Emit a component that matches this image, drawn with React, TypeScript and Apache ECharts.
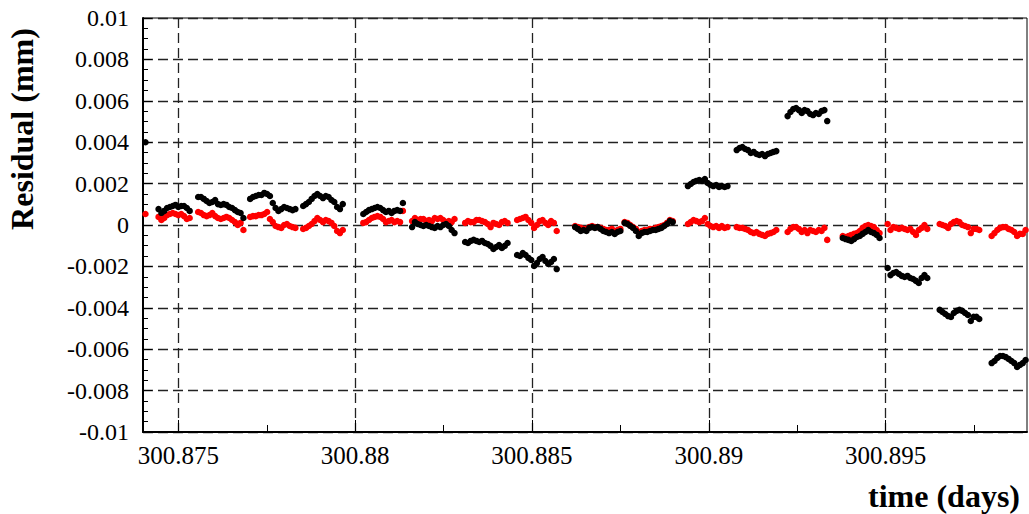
import React, { useEffect, useRef } from "react";
import * as echarts from "echarts";

// Sample times, in units of 1e-5 day after day 300.87
const timeOffsets: number[] = [
  407,
  444, 452, 460, 468, 476, 484, 492, 500, 508, 516, 524, 532,
  556, 564, 572, 580, 588, 596, 604, 612, 620, 628, 636, 644, 652, 660, 668, 676, 684,
  703, 711, 719, 727, 735, 743, 751, 759, 767, 775, 783, 791, 799, 807, 815, 823, 831,
  853, 861, 869, 877, 885, 893, 901, 909, 917, 925, 933, 941, 949, 957, 965,
  1023, 1031, 1039, 1047, 1055, 1063, 1071, 1079, 1087, 1095, 1103, 1111, 1119, 1127, 1135,
  1161, 1169, 1177, 1185, 1193, 1201, 1209, 1217, 1225, 1233, 1241, 1249, 1257, 1265, 1273, 1281,
  1311, 1319, 1327, 1335, 1343, 1351, 1359, 1367, 1375, 1383, 1391, 1399, 1407, 1415, 1423, 1431,
  1458, 1466, 1474, 1482, 1490, 1498, 1506, 1514, 1522, 1530, 1538, 1546, 1554, 1562, 1570,
  1622, 1630, 1638, 1646, 1654, 1662, 1670, 1678, 1686, 1694, 1702, 1710, 1718, 1726, 1734, 1742, 1750,
  1762, 1770, 1778, 1786, 1794, 1802, 1810, 1818, 1826, 1834, 1842, 1850, 1858, 1866, 1874, 1882, 1890, 1898,
  1941, 1949, 1957, 1965, 1973, 1981, 1989, 1997, 2005, 2013, 2021, 2029, 2037, 2045, 2053,
  2079, 2087, 2095, 2103, 2111, 2119, 2127, 2135, 2143, 2151, 2159, 2167, 2175, 2183, 2191,
  2223, 2231, 2239, 2247, 2255, 2263, 2271, 2279, 2287, 2295, 2303, 2311, 2319, 2327, 2335,
  2379, 2387, 2395, 2403, 2411, 2419, 2427, 2435, 2443, 2451, 2459, 2467, 2475, 2483,
  2506, 2514, 2522, 2530, 2538, 2546, 2554, 2562, 2570, 2578, 2586, 2594, 2602, 2610, 2618,
  2653, 2661, 2669, 2677, 2685, 2693, 2701, 2709, 2717, 2725, 2733, 2741, 2749, 2757, 2765,
  2800, 2808, 2816, 2824, 2832, 2840, 2848, 2856, 2864, 2872, 2880, 2888, 2896,
];

// Raw residuals (black), micrometres
const rawResidualUm: number[] = [
  4.0,
  0.77, 0.58, 0.68, 0.82, 0.87, 0.92, 0.97, 0.87, 0.92, 0.92, 0.82, 0.68,
  1.35, 1.35, 1.26, 1.16, 1.06, 1.11, 1.21, 1.01, 0.97, 1.01, 0.97, 0.87, 0.82, 0.72, 0.63, 0.58, 0.34,
  1.26, 1.35, 1.4, 1.45, 1.45, 1.55, 1.5, 1.4, 1.06, 0.82, 0.68, 0.77, 0.87, 0.82, 0.77, 0.72, 0.77,
  0.92, 1.01, 1.11, 1.26, 1.4, 1.5, 1.4, 1.3, 1.4, 1.35, 1.21, 1.11, 0.87, 0.77, 1.01,
  0.53, 0.63, 0.72, 0.77, 0.82, 0.87, 0.82, 0.72, 0.63, 0.68, 0.58, 0.68, 0.72, 0.68, 1.06,
  -0.1, 0.14, 0.05, 0.0, -0.05, 0.0, -0.05, -0.1, -0.14, -0.05, -0.1, 0.0, 0.05, -0.05, -0.24, -0.39,
  -0.82, -0.87, -0.77, -0.72, -0.77, -0.82, -0.77, -0.87, -0.92, -1.01, -1.16, -1.06, -0.97, -1.11, -1.01, -0.87,
  -1.45, -1.5, -1.35, -1.45, -1.59, -1.69, -1.98, -1.84, -1.64, -1.55, -1.74, -1.88, -1.79, -1.64, -2.13,
  -0.1, -0.19, -0.29, -0.24, -0.29, -0.14, -0.1, -0.14, -0.1, -0.19, -0.29, -0.34, -0.39, -0.34, -0.43, -0.34, -0.29,
  0.1, 0.05, -0.05, -0.14, -0.29, -0.53, -0.39, -0.34, -0.34, -0.29, -0.24, -0.24, -0.19, -0.14, -0.05, 0.05, 0.19, 0.14,
  1.88, 1.98, 2.08, 2.13, 2.17, 2.13, 2.22, 2.03, 1.93, 1.88, 1.93, 1.84, 1.88, 1.84, 1.88,
  3.62, 3.72, 3.77, 3.67, 3.62, 3.48, 3.53, 3.43, 3.38, 3.43, 3.33, 3.43, 3.48, 3.53, 3.57,
  5.26, 5.46, 5.6, 5.65, 5.55, 5.41, 5.55, 5.5, 5.36, 5.31, 5.41, 5.36, 5.5, 5.55, 5.02,
  -0.63, -0.68, -0.72, -0.77, -0.68, -0.58, -0.53, -0.43, -0.34, -0.24, -0.34, -0.39, -0.48, -0.63,
  -2.08, -2.42, -2.32, -2.27, -2.37, -2.46, -2.51, -2.46, -2.56, -2.61, -2.7, -2.8, -2.56, -2.42, -2.56,
  -4.1, -4.2, -4.3, -4.4, -4.44, -4.25, -4.15, -4.1, -4.15, -4.25, -4.35, -4.64, -4.44, -4.44, -4.54,
  -6.67, -6.57, -6.42, -6.33, -6.33, -6.38, -6.47, -6.57, -6.67, -6.86, -6.76, -6.67, -6.52,
];

// Corrected residuals (red), micrometres
const correctedResidualUm: number[] = [
  0.53,
  0.39, 0.24, 0.34, 0.48, 0.53, 0.58, 0.53, 0.48, 0.53, 0.43, 0.29, 0.34,
  0.63, 0.58, 0.48, 0.43, 0.48, 0.58, 0.43, 0.34, 0.29, 0.34, 0.39, 0.34, 0.24, 0.14, 0.0, 0.1, -0.24,
  0.39, 0.43, 0.43, 0.48, 0.48, 0.53, 0.63, 0.29, 0.14, -0.05, -0.1, -0.14, 0.0, 0.05, -0.05, -0.1, -0.14,
  -0.19, -0.14, -0.05, 0.05, 0.19, 0.34, 0.24, 0.14, 0.24, 0.19, 0.1, -0.05, -0.29, -0.39, -0.24,
  0.1, 0.14, 0.24, 0.34, 0.39, 0.43, 0.39, 0.29, 0.14, 0.19, 0.24, 0.14, 0.19, 0.14, 0.68,
  0.19, 0.34, 0.24, 0.29, 0.29, 0.19, 0.24, 0.19, 0.34, 0.29, 0.34, 0.24, 0.14, 0.19, 0.14, 0.29,
  0.1, 0.19, 0.14, 0.14, 0.24, 0.24, 0.19, 0.14, 0.05, -0.1, 0.1, 0.05, 0.0, 0.14, 0.19, 0.1,
  0.24, 0.29, 0.34, 0.39, 0.24, 0.1, -0.14, 0.0, 0.19, 0.24, 0.1, 0.0, 0.19, 0.1, -0.29,
  -0.05, -0.1, -0.14, -0.19, -0.19, -0.1, -0.05, -0.1, -0.1, -0.14, -0.19, -0.24, -0.24, -0.19, -0.29, -0.24, -0.19,
  0.14, 0.1, 0.0, -0.1, -0.19, -0.34, -0.29, -0.24, -0.24, -0.19, -0.19, -0.14, -0.1, -0.05, 0.0, 0.1, 0.24, 0.19,
  0.05, 0.14, 0.24, 0.19, 0.14, 0.19, 0.34, 0.05, -0.05, -0.1, -0.05, -0.14, -0.05, -0.14, -0.1,
  -0.1, -0.14, -0.14, -0.19, -0.24, -0.34, -0.39, -0.34, -0.43, -0.48, -0.53, -0.43, -0.39, -0.34, -0.24,
  -0.34, -0.19, -0.1, -0.1, -0.19, -0.34, -0.24, -0.39, -0.24, -0.29, -0.34, -0.24, -0.29, -0.14, -0.72,
  -0.53, -0.58, -0.53, -0.48, -0.43, -0.39, -0.29, -0.14, -0.05, 0.0, -0.05, -0.1, -0.24, -0.39,
  0.05, -0.24, -0.1, -0.14, -0.19, -0.14, -0.19, -0.24, -0.19, -0.34, -0.48, -0.24, -0.14, 0.0, -0.19,
  0.05, 0.0, -0.05, -0.14, 0.05, 0.14, 0.19, 0.14, 0.0, -0.05, -0.1, -0.39, -0.19, -0.19, -0.24,
  -0.53, -0.39, -0.24, -0.14, -0.1, -0.1, -0.19, -0.24, -0.34, -0.53, -0.43, -0.43, -0.24,
];

const xMajorTicks = [300.875, 300.88, 300.885, 300.89, 300.895];
const xMinorTicks = [300.8775, 300.8825, 300.8875, 300.8925, 300.8975];

const X_MIN = 300.874;
const X_MAX = 300.899;
const Y_MIN = -0.01;
const Y_MAX = 0.01;
const Y_STEP = 0.002;

const FONT = "Liberation Serif, Times New Roman, serif";

function toPoints(values: number[]): [number, number][] {
  const n = Math.min(values.length, timeOffsets.length);
  const out: [number, number][] = [];
  for (let i = 0; i < n; i++) {
    out.push([300.87 + timeOffsets[i] * 1e-5, values[i] / 1000]);
  }
  return out;
}

const fmt = (v: number) => String(+Number(v).toFixed(4));

export default function App() {
  const ref = useRef<HTMLDivElement>(null);

  useEffect(() => {
    if (!ref.current) return;
    const chart = echarts.init(ref.current, undefined, { renderer: "svg" });

    const gridDash = { color: "#222", width: 1.3, type: [10, 5] as number[] };

    chart.setOption({
      animation: false,
      backgroundColor: "#ffffff",
      textStyle: { fontFamily: FONT },
      grid: {
        left: 143,
        right: 2,
        top: 18,
        bottom: 82,
        show: true,
        borderColor: "#000",
        borderWidth: 1,
        backgroundColor: "transparent",
      },
      xAxis: [
        {
          type: "value",
          min: X_MIN,
          max: X_MAX,
          position: "bottom",
          axisLine: { show: true, onZero: false, lineStyle: { color: "#000", width: 2 } },
          axisTick: {
            show: true,
            inside: true,
            length: 12,
            customValues: xMajorTicks,
            lineStyle: { color: "#000", width: 1 },
          },
          axisLabel: {
            customValues: xMajorTicks,
            formatter: fmt,
            fontFamily: FONT,
            fontSize: 25,
            color: "#000",
            margin: 11,
          },
          splitLine: { show: true, lineStyle: gridDash },
        },
        {
          type: "value",
          min: X_MIN,
          max: X_MAX,
          position: "bottom",
          axisLine: { show: false, onZero: false },
          axisTick: {
            show: true,
            inside: true,
            length: 7,
            customValues: xMinorTicks,
            lineStyle: { color: "#000", width: 1 },
          },
          axisLabel: { show: false },
          splitLine: { show: false },
        },
      ],
      yAxis: {
        type: "value",
        min: Y_MIN,
        max: Y_MAX,
        interval: Y_STEP,
        axisLine: { show: true, onZero: false, lineStyle: { color: "#000", width: 2 } },
        axisTick: { show: true, inside: true, length: 9, lineStyle: { color: "#000", width: 1 } },
        minorTick: { show: true, splitNumber: 4, length: 5, lineStyle: { color: "#000", width: 1 } },
        axisLabel: {
          formatter: fmt,
          fontFamily: FONT,
          fontSize: 24,
          color: "#000",
          margin: 14,
        },
        splitLine: { show: true, lineStyle: gridDash },
      },
      graphic: [
        {
          type: "text",
          x: 22,
          y: 129,
          rotation: Math.PI / 2,
          style: {
            text: "Residual (mm)",
            fontFamily: FONT,
            fontWeight: "bold",
            fontSize: 32,
            fill: "#000",
            align: "center",
            verticalAlign: "middle",
            textAlign: "center",
            textVerticalAlign: "middle",
          },
        },
        {
          type: "text",
          x: 1020,
          y: 496,
          style: {
            text: "time (days)",
            fontFamily: FONT,
            fontWeight: "bold",
            fontSize: 32,
            fill: "#000",
            align: "right",
            verticalAlign: "middle",
            textAlign: "right",
            textVerticalAlign: "middle",
          },
        },
      ],
      series: [
        {
          name: "corrected",
          type: "scatter",
          xAxisIndex: 0,
          data: toPoints(correctedResidualUm),
          symbol: "circle",
          symbolSize: 6.5,
          itemStyle: { color: "#ff0000", opacity: 1 },
          silent: true,
        },
        {
          name: "raw",
          type: "scatter",
          xAxisIndex: 0,
          data: toPoints(rawResidualUm),
          symbol: "circle",
          symbolSize: 6.5,
          itemStyle: { color: "#000000", opacity: 1 },
          silent: true,
        },
      ],
    });

    return () => {
      chart.dispose();
    };
  }, []);

  return (
    <div
      ref={ref}
      style={{ position: "fixed", left: 0, top: 0, width: 1029, height: 514, background: "#fff" }}
    />
  );
}
